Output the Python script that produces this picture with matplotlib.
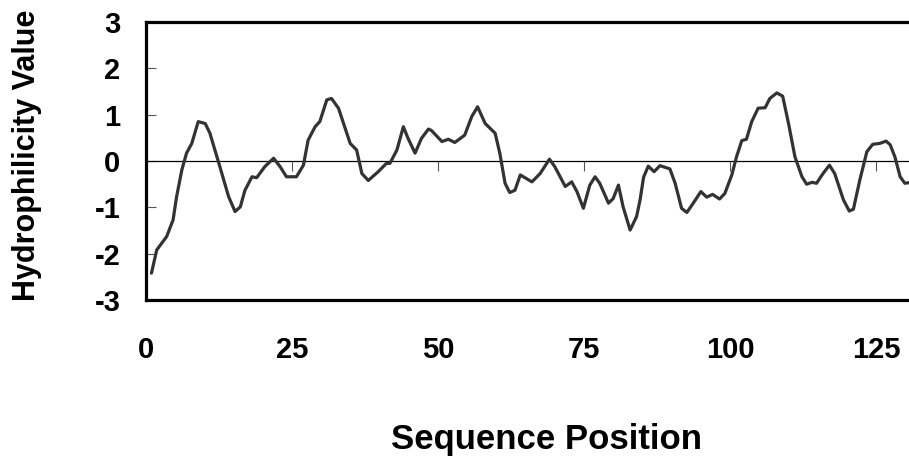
import matplotlib
matplotlib.use("Agg")
import matplotlib.pyplot as plt

# Sequence positions and hydrophilicity values
positions = [1, 1.9, 3.6, 4.7, 5.3, 6.2, 7.0, 7.9, 9.0, 10.2, 11.0, 12.7, 14.2, 15.3,
             16.2, 17.0, 18.2, 19.0, 20.4, 21.9, 23.0, 24.1, 25.8, 27.0, 27.8, 29.0,
             29.8, 31.0, 31.8, 33.0, 35.0, 36.1, 37.0, 38.1, 39.8, 41.2, 41.8, 43.0,
             44.1, 44.9, 46.1, 47.2, 48.4, 48.9, 50.7, 51.8, 52.9, 54.6, 55.8, 56.8,
             58.1, 59.8, 60.6, 61.5, 62.3, 63.2, 64.1, 64.9, 66.1, 67.5, 69.1, 70.0,
             71.8, 72.9, 73.8, 74.9, 76.0, 76.9, 77.7, 79.2, 80.0, 80.9, 81.7, 82.9,
             84.0, 84.6, 85.2, 86.0, 87.0, 88.0, 89.7, 90.6, 91.7, 92.6, 93.7, 95.0,
             96.0, 97.0, 98.2, 99.1, 100.3, 101.1, 102.0, 102.8, 103.7, 104.8, 106.0,
             106.8, 108.0, 109.0, 110.0, 111.1, 112.3, 113.1, 114.0, 114.8, 115.9,
             117.0, 117.9, 119.4, 120.4, 121.1, 122.2, 123.4, 124.4, 125.6, 126.7,
             127.4, 128.2, 129.1, 129.9, 131.0]
hydrophilicity = [-2.42, -1.92, -1.63, -1.27, -0.77, -0.19, 0.17, 0.38, 0.85, 0.81, 0.60,
                  -0.12, -0.77, -1.09, -0.99, -0.63, -0.34, -0.36, -0.12, 0.06, -0.12,
                  -0.34, -0.34, -0.09, 0.45, 0.74, 0.85, 1.32, 1.35, 1.14, 0.38, 0.24,
                  -0.27, -0.42, -0.23, -0.05, -0.05, 0.24, 0.74, 0.49, 0.17, 0.49, 0.69,
                  0.66, 0.42, 0.47, 0.40, 0.56, 0.96, 1.17, 0.81, 0.60, 0.17, -0.48,
                  -0.68, -0.63, -0.30, -0.36, -0.45, -0.27, 0.04, -0.12, -0.55, -0.45,
                  -0.66, -1.02, -0.52, -0.34, -0.48, -0.91, -0.81, -0.52, -0.99, -1.49,
                  -1.20, -0.84, -0.35, -0.11, -0.23, -0.10, -0.17, -0.48, -1.02, -1.11,
                  -0.91, -0.66, -0.78, -0.72, -0.82, -0.70, -0.30, 0.09, 0.44, 0.47,
                  0.85, 1.14, 1.15, 1.35, 1.47, 1.40, 0.81, 0.09, -0.34, -0.50, -0.46,
                  -0.48, -0.27, -0.09, -0.27, -0.84, -1.08, -1.04, -0.41, 0.20, 0.36,
                  0.38, 0.43, 0.35, 0.09, -0.34, -0.48, -0.46]
x_ticks = [0, 25, 50, 75, 100, 125]
y_ticks = [-3, -2, -1, 0, 1, 2, 3]

plt.rcParams['font.family'] = ['Liberation Sans', 'DejaVu Sans']
plt.rcParams['font.weight'] = 'bold'
plt.rcParams['axes.unicode_minus'] = False

fig = plt.figure(figsize=(9.09, 4.57), dpi=100)
ax = fig.add_axes([0.1602, 0.3435, 0.868, 0.6083])

ax.plot(positions, hydrophilicity, color='#333333', lw=2.3,
        solid_joinstyle='round', solid_capstyle='round', zorder=3)
ax.axhline(0, color='black', lw=0.9, zorder=2)

ax.set_xlim(0, 135)
ax.set_ylim(-3, 3)

for s in ['left', 'top', 'bottom']:
    ax.spines[s].set_linewidth(2.3)
    ax.spines[s].set_color('black')
ax.spines['right'].set_visible(False)

ax.set_xticks(x_ticks)
ax.set_yticks(y_ticks)
ax.tick_params(axis='x', length=0, pad=26, labelsize=21)
ax.tick_params(axis='y', direction='in', length=7, width=0.8, color='#555555',
               pad=18, labelsize=21)
for lab in ax.get_xticklabels() + ax.get_yticklabels():
    lab.set_fontweight('bold')

# x-axis ticks on the zero line
sec = ax.secondary_xaxis(0.5)
sec.set_xticks(x_ticks)
sec.xaxis.set_ticks_position('bottom')
sec.tick_params(axis='x', direction='out', length=7, width=0.8, color='#555555',
                labelbottom=False, labeltop=False)
sec.spines['bottom'].set_visible(False)
sec.spines['top'].set_visible(False)

fig.text(27 / 909, 1 - 155 / 457, 'Hydrophilicity Value', fontsize=22,
         fontweight='bold', rotation=90, ha='center', va='center')
fig.text(546.5 / 909, 1 - 449 / 457, 'Sequence Position', fontsize=25,
         fontweight='bold', ha='center', va='baseline')

fig.savefig('out.png', dpi=100)
